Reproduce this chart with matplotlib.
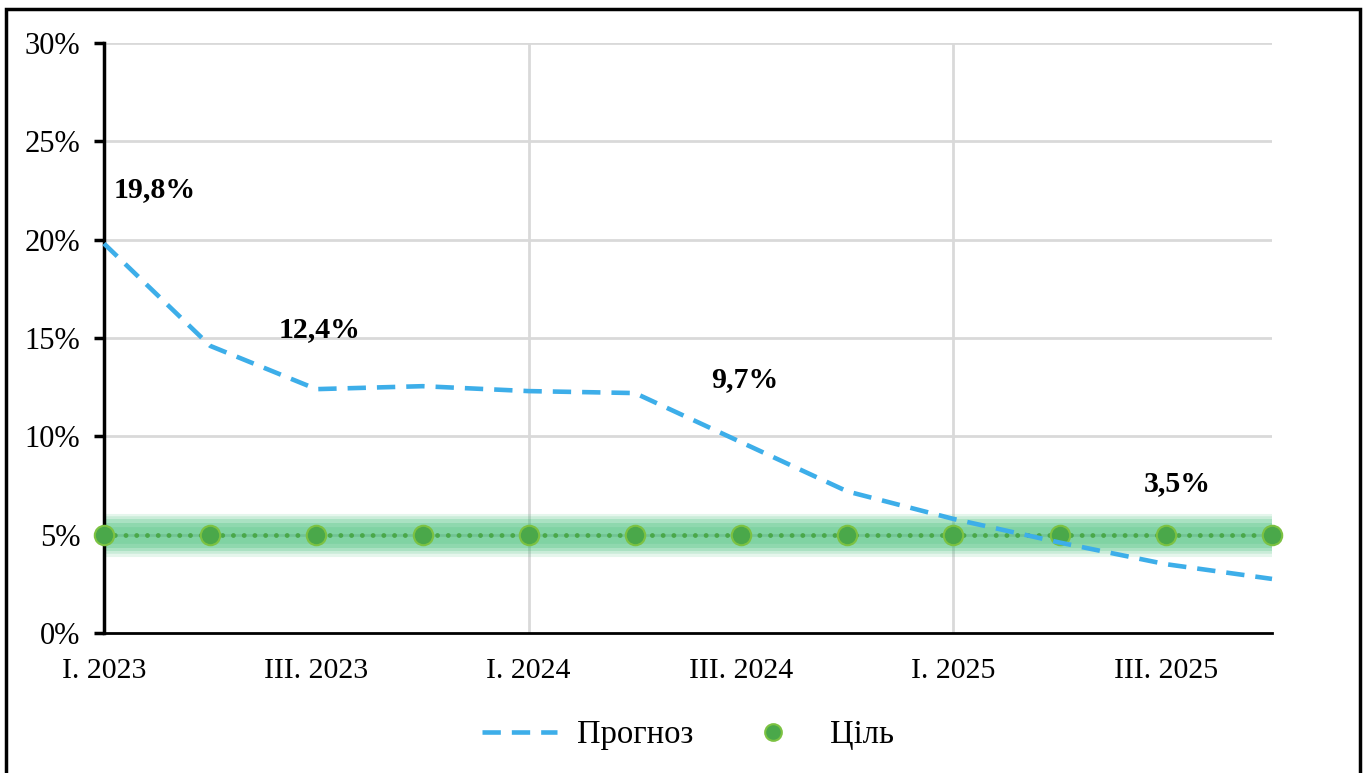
import matplotlib.pyplot as plt
from matplotlib.lines import Line2D
from matplotlib.patches import Rectangle

quarters = ['I. 2023', 'II. 2023', 'III. 2023', 'IV. 2023',
            'I. 2024', 'II. 2024', 'III. 2024', 'IV. 2024',
            'I. 2025', 'II. 2025', 'III. 2025', 'IV. 2025']
forecast = [19.8, 14.6, 12.4, 12.55, 12.3, 12.2, 9.7, 7.2, 5.8, 4.6, 3.5, 2.75]
target = [5] * 12
labelled = {0: '19,8%', 2: '12,4%', 6: '9,7%', 10: '3,5%'}

plt.rcParams['font.family'] = ['Liberation Serif', 'DejaVu Serif']

blue = '#3daee9'
green = '#4aa84a'

fig = plt.figure(figsize=(13.63, 7.73), dpi=100)
ax = fig.add_axes([104 / 1363, 1 - 633 / 773, (1272 - 104) / 1363, (633 - 43) / 773])

x = list(range(len(quarters)))

# grid
for yv in range(5, 31, 5):
    ax.axhline(yv, color='#d9d9d9', lw=2, zorder=0)
for xv in [4, 8]:
    ax.axvline(xv, color='#d9d9d9', lw=2, zorder=0)

# glow around target
for lw, a in [(31, 0.12), (27, 0.15), (23, 0.2), (18, 0.22), (12, 0.15)]:
    ax.plot(x, target, color='#2fb86a', lw=lw, alpha=a, solid_capstyle='butt', zorder=1)

ax.plot(x, target, color=green, lw=3.5, ls=(0, (0.01, 2.2)), dash_capstyle='round', zorder=2)
ax.plot(x, target, ls='none', marker='o', ms=14, color=green, mec='#7cc242', mew=1.5, zorder=3, clip_on=False)

ax.plot(x, forecast, color=blue, lw=3.3, ls=(0, (4, 2.4)), zorder=4, clip_on=False)

# data labels placed above the line
pos = {0: (114, 190, 'left'), 2: (320, 330, 'center'), 6: (745, 380, 'center'), 10: (1177, 484, 'center')}
for i, txt in labelled.items():
    px, py, ha = pos[i]
    fig.text(px / 1363, 1 - py / 773, txt, fontsize=21.5, fontweight='bold', ha=ha, va='center')

ax.set_xlim(0, 11)
ax.set_ylim(0, 30)
ax.set_yticks(range(0, 31, 5))
ax.set_yticklabels([f'{v}%' for v in range(0, 31, 5)], fontsize=22)
ax.set_xticks(x[::2])
ax.set_xticklabels(quarters[::2], fontsize=21.5)
ax.tick_params(axis='x', length=0, pad=18)
ax.set_xticks([0, 4, 8], minor=True)
ax.tick_params(axis='x', which='minor', length=7, width=2.5, direction='out')
ax.tick_params(axis='y', length=7, width=2.5, direction='out', pad=10)

for s in ['top', 'right']:
    ax.spines[s].set_visible(False)
ax.spines['left'].set_linewidth(2.5)
ax.spines['bottom'].set_linewidth(2)

handles = [Line2D([], [], color=blue, lw=3.3, ls=(0, (4, 2.4))),
           Line2D([], [], ls='none', marker='o', ms=12, color=green, mec='#7cc242', mew=1.5)]
fig.legend(handles, ['Прогноз', 'Ціль'], loc='center', bbox_to_anchor=(688 / 1363, 1 - 735 / 773),
           ncol=2, frameon=False, fontsize=23.5, handlelength=2.3, columnspacing=1.3, handletextpad=0.6)

fig.patches.append(Rectangle((6 / 1363, -0.05), (1360 - 6) / 1363, 1.05 - 9 / 773,
                             transform=fig.transFigure, fill=False, ec='black', lw=2.5))

fig.savefig('out.png', dpi=100)
